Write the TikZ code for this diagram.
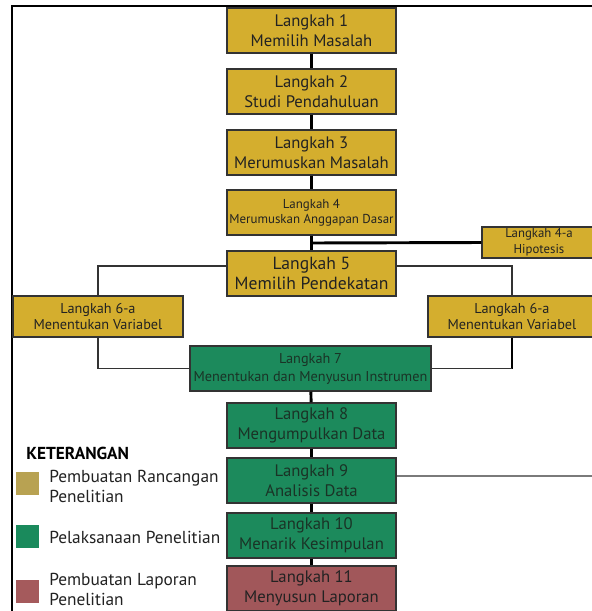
\documentclass[tikz,border=0pt]{standalone}
\usepackage{fontspec}
\setmainfont{PT Sans}
\usetikzlibrary{calc}
\definecolor{gold}{HTML}{D4AE2E}
\definecolor{grn}{HTML}{1C8A5C}
\definecolor{rust}{HTML}{A1575A}
\definecolor{lgold}{HTML}{B8A252}
\definecolor{lgrn}{HTML}{1A8A5C}
\definecolor{lrust}{HTML}{A55A5C}
\definecolor{bord}{HTML}{333333}
\definecolor{txtdark}{HTML}{222222}
\definecolor{txtgrn}{HTML}{1A3326}
\begin{document}
\begin{tikzpicture}[x=0.75pt,y=-0.75pt,
  box/.style={draw=bord, line width=1.1pt, inner sep=0pt, align=center, text=txtdark},
  sz/.style 2 args={minimum width=#1*0.75pt, minimum height=#2*0.75pt},
  fA/.style={font=\fontsize{12.5pt}{15pt}\selectfont},
  fS/.style={font=\fontsize{9.7pt}{11.25pt}\selectfont},
  fH/.style={font=\fontsize{9.6pt}{11.7pt}\selectfont},
  fM/.style={font=\fontsize{10.7pt}{12pt}\selectfont},
  fI/.style={font=\fontsize{10.7pt}{13.5pt}\selectfont},
  fL/.style={font=\fontsize{13.2pt}{15pt}\selectfont},
  goldbox/.style={box, fill=gold},
  grnbox/.style={box, fill=grn, text=txtgrn},
  rustbox/.style={box, fill=rust, text=txtdark},
  thickline/.style={draw=black, line width=2.2pt},
  thinline/.style={draw=bord, line width=1pt},
  frameline/.style={draw=black, line width=1.6pt},
  legsq/.style={inner sep=0pt, minimum width=22.5*0.75pt, minimum height=23*0.75pt},
  legtxt/.style={anchor=west, align=left, inner sep=0pt, text=txtdark, font=\fontsize{13pt}{15pt}\selectfont}
]
\useasboundingbox (0,0) rectangle (592,611);
\fill[white] (0,0) rectangle (592,611);

% frame
\coordinate (fa) at (12,615);
\coordinate (fb) at (12,6);
\coordinate (fc) at (600,6);
\draw[frameline] (fa) -- (fb) -- (fc);

% boxes
\node[goldbox, fA, sz={169}{45}] (b1) at (311.5,30.5) {Langkah 1\\Memilih Masalah};
\node[goldbox, fA, sz={169}{45}] (b2) at (311.5,91.5) {Langkah 2\\Studi Pendahuluan};
\node[goldbox, fA, sz={169}{45}] (b3) at (311.5,152.5) {Langkah 3\\Merumuskan Masalah};
\node[goldbox, fS, sz={169}{45}] (b4) at (311.5,212.5) {Langkah 4\\Merumuskan Anggapan Dasar};
\node[goldbox, fH, sz={114}{31}] (b4a) at (539,242.5) {Langkah 4-a\\Hipotesis};
\node[goldbox, fL, sz={169}{45}] (b5) at (311.5,273.5) {Langkah 5\\Memilih Pendekatan};
\node[goldbox, fM, sz={170}{41}] (b6l) at (98,316.5) {Langkah 6-a\\Menentukan Variabel};
\node[goldbox, fM, sz={168}{41}] (b6r) at (512,316.5) {Langkah 6-a\\Menentukan Variabel};
\node[grnbox, fI, sz={241}{45}] (b7) at (310.5,368.5) {Langkah 7\\Menentukan dan Menyusun Instrumen};
\node[grnbox, fA, sz={169}{45}] (b8) at (311.5,425.5) {Langkah 8\\Mengumpulkan Data};
\node[grnbox, fA, sz={169}{45}] (b9) at (311.5,480.5) {Langkah 9\\Analisis Data};
\node[grnbox, fA, sz={169}{45}] (b10) at (311.5,535.5) {Langkah 10\\Menarik Kesimpulan};
\node[rustbox, fA, sz={169}{45}] (b11) at (311.5,588.5) {Langkah 11\\Menyusun Laporan};

% connectors
\draw[thickline] (b1) -- (b2);
\draw[thickline] (b2) -- (b3);
\draw[thickline] (b3) -- (b4);
\draw[thickline] (b4) -- (b5);
\coordinate (j4) at ($(b4.south)!0.5!(b5.north)$);
\draw[thickline] (j4) -- (b4a.west);
\draw[thinline] ([yshift=5.6pt]b5.west) -| (b6l.north);
\draw[thinline] ([yshift=5.6pt]b5.east) -| (b6r.north);
\draw[thinline] (b6l.south) |- (b7.west);
\coordinate (j6) at (b6r.south |- b7.east);
\draw[thickline] (b6r.south) -- (j6);
\draw[thinline] (j6) -- (b7.east);
\draw[thickline] (b7) -- (b8);
\draw[thickline] (b8) -- (b9);
\draw[thickline] (b9) -- (b10);
\draw[thickline] (b10) -- (b11);
\coordinate (e9) at (600,476);
\draw[thinline] ([yshift=3.4pt]b9.east) -- (e9);

% legend
\node[anchor=west, inner sep=0pt, text=black, font=\bfseries\fontsize{13pt}{14pt}\selectfont] (lk) at (26,453) {KETERANGAN};
\node[legsq, fill=lgold] (s1) at (27.3,483) {};
\node[legsq, fill=lgrn] (s2) at (27.3,536) {};
\node[legsq, fill=lrust] (s3) at (27.3,591) {};
\node[legtxt] (t1) at (49,486) {Pembuatan Rancangan\\Penelitian};
\node[legtxt] (t2) at (49,537) {Pelaksanaan Penelitian};
\node[legtxt] (t3) at (49,589) {Pembuatan Laporan\\Penelitian};
\end{tikzpicture}
\end{document}
